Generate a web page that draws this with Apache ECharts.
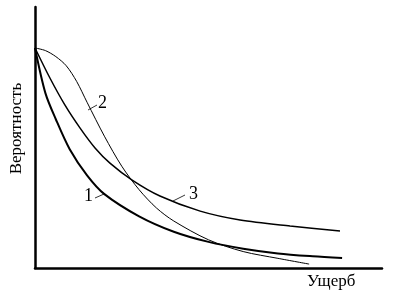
<!DOCTYPE html>
<html><head><meta charset="utf-8">
<script src="https://cdn.jsdelivr.net/npm/echarts@6/dist/echarts.min.js"></script>
<style>html,body{margin:0;padding:0;background:#fff}#c{width:395px;height:298px}</style>
</head><body><div id="c"></div>
<script>
// Ущерб (x, условные единицы 0–100) и вероятность (y, условные единицы 0–100)
const curve1 = [[0,84.3],[3,67],[6,57],[10,45.5],[15,35.5],[20,28.3],[30,19.8],[40,13.9],[50,10],[60,7.4],[70,5.6],[80,4.5],[88.5,3.8]];
const curve2 = [[0,84.3],[3,83.3],[6,81],[9,77.5],[12,71.5],[15,63.5],[20,50.5],[25,39],[30,30],[35,23],[40,18],[50,10.8],[60,6.3],[70,3.7],[79,1.5]];
const curve3 = [[0,84.3],[4.3,72.8],[8.6,62.5],[13,53.6],[17.3,46],[21.6,40.2],[28,33.7],[36,27.6],[47.6,21.8],[59.1,18.4],[73.5,16.1],[87.9,14.2]];
const curveLabels = ['1','2','3'];
const xName = 'Ущерб';
const yName = 'Вероятность';

const font = '"Liberation Serif","DejaVu Serif",serif';
const chart = echarts.init(document.getElementById('c'), null, {renderer:'canvas'});
chart.setOption({
  animation:false,
  backgroundColor:'#fff',
  grid:{left:35,right:13,top:7,bottom:30,containLabel:false,outerBoundsMode:'none'},
  xAxis:{type:'value',min:0,max:100,
    axisLine:{lineStyle:{color:'#000',width:2.5}},
    axisTick:{show:false},axisLabel:{show:false},splitLine:{show:false}},
  yAxis:{type:'value',min:0,max:100,name:yName,nameLocation:'middle',nameGap:10,nameRotate:90,
    nameTextStyle:{fontFamily:font,fontSize:17,color:'#000',padding:[0,0,0,18]},
    axisLine:{show:true,lineStyle:{color:'#000',width:2.5}},
    axisTick:{show:false},axisLabel:{show:false},splitLine:{show:false}},
  series:[
    {type:'line',data:curve1,smooth:0.3,symbol:'none',lineStyle:{color:'#000',width:2}},
    {type:'line',data:curve2,smooth:0.3,symbol:'none',lineStyle:{color:'#000',width:1}},
    {type:'line',data:curve3,smooth:0.3,symbol:'none',lineStyle:{color:'#000',width:1.5}}
  ],
  graphic:[
    {type:'text',left:307,top:273,style:{text:xName,font:'17px '+font,fill:'#000'}},
    {type:'text',left:84,top:187,style:{text:curveLabels[0],font:'18px '+font,fill:'#000'}},
    {type:'line',shape:{x1:95,y1:198,x2:104,y2:194},style:{stroke:'#000',lineWidth:0.8}},
    {type:'text',left:98,top:94,style:{text:curveLabels[1],font:'18px '+font,fill:'#000'}},
    {type:'line',shape:{x1:88,y1:110,x2:97,y2:105},style:{stroke:'#000',lineWidth:0.8}},
    {type:'text',left:189,top:185,style:{text:curveLabels[2],font:'18px '+font,fill:'#000'}},
    {type:'line',shape:{x1:173,y1:201,x2:185,y2:195},style:{stroke:'#000',lineWidth:0.8}}
  ]
});
</script></body></html>
